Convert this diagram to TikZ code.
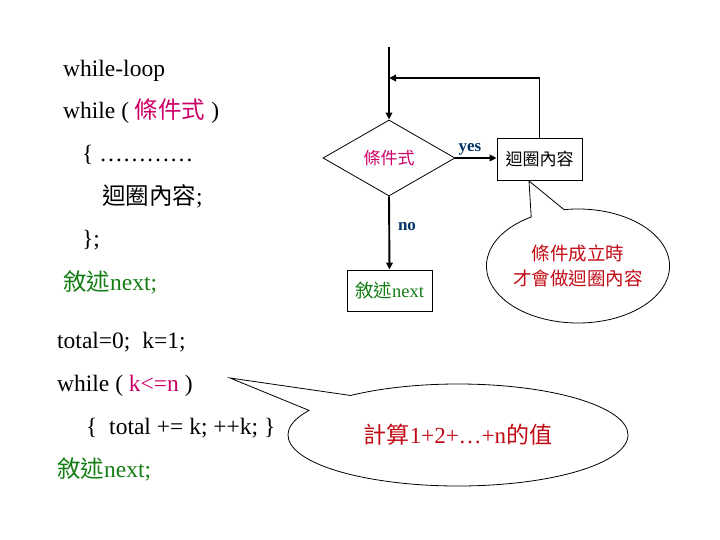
\documentclass[tikz,border=0pt]{standalone}
\usepackage{fontspec}
\setmainfont{Liberation Serif}
\newfontfamily\cjk{Noto Sans CJK TC}
\usetikzlibrary{shapes.geometric,shapes.callouts,arrows.meta}
\definecolor{condc}{RGB}{204,0,102}
\definecolor{greenc}{RGB}{20,125,20}
\definecolor{redc}{RGB}{192,10,20}
\definecolor{navyc}{RGB}{0,51,102}
\begin{document}
\begin{tikzpicture}[x=1pt,y=-1pt,
  code/.style={anchor=base west, inner sep=0pt, font=\fontsize{23.5}{26}\selectfont},
  shapeline/.style={draw, line width=0.8pt},
  flowbox/.style={shapeline, rectangle, minimum width=85pt, minimum height=42pt, inner sep=0pt},
  flow/.style={line width=1.9pt, -{Triangle[length=7pt,width=6.5pt]}},
  lab/.style={inner sep=0pt, text=navyc, font=\fontsize{17}{19}\selectfont\bfseries},
  bubble/.style={shapeline, ellipse callout, inner sep=0pt, align=center, text=redc}]
\useasboundingbox (0,0) rectangle (720,540);

% left column code
\node[code] (l1) at (63,77) {while-loop};
\node[code] (l2) at (63,119) {while ( {\color{condc}\cjk 條件式} )};
\node[code] (l3) at (82,162) {\{ …………};
\node[code] (l4) at (102,205) {{\cjk 迴圈內容};};
\node[code] (l5) at (82,247) {\};};
\node[code, text=greenc] (l6) at (63,290) {{\cjk 敘述}next;};
\node[code] (l7) at (57,348) {total=0;\ \ k=1;};
\node[code] (l8) at (57,391) {while ( {\color{condc}k<=n} )};
\node[code] (l9) at (86,434) {\{\ \ total += k; ++k; \}};
\node[code, text=greenc] (l10) at (57,477) {{\cjk 敘述}next;};

% flowchart
\coordinate (top) at (389,47);
\coordinate (lb) at (389,78);
\node[shapeline, diamond, minimum width=132pt, minimum height=76pt, inner sep=0pt,
      text=condc, font=\fontsize{17}{19}\cjk] (cond) at (389,158) {條件式};
\node[flowbox, font=\fontsize{17}{19}\cjk] (box1) at (539.5,159) {迴圈內容};
\node[flowbox, minimum height=41pt, text=greenc, font=\fontsize{18.5}{20}\selectfont] (box2) at (389.5,290.5) {{\cjk 敘述}next};

\draw[flow] (top) -- (cond.north);
\draw[flow] (cond.east) -- (cond.east -| box1.west);
\draw[flow] (cond.south) -- (box2.north);
\draw[flow] (box1.north) |- (lb);

\node[lab] (yes) at (470,149) {yes};
\node[lab] (no) at (407,227) {no};

% callouts
\coordinate (p1) at (529,181);
\node[bubble, minimum width=150pt, minimum height=114pt, callout absolute pointer=(p1),
      callout pointer arc=22, font=\fontsize{18.5}{25}\cjk] (c1) at (578,266) {條件成立時\\才會做迴圈內容};
\coordinate (p2) at (230,378);
\node[bubble, minimum width=340pt, minimum height=102pt, callout absolute pointer=(p2),
      callout pointer arc=22, font=\fontsize{23}{25}\selectfont] (c2) at (458,435) {{\cjk 計算}1+2+…+n{\cjk 的值}};
\end{tikzpicture}
\end{document}
